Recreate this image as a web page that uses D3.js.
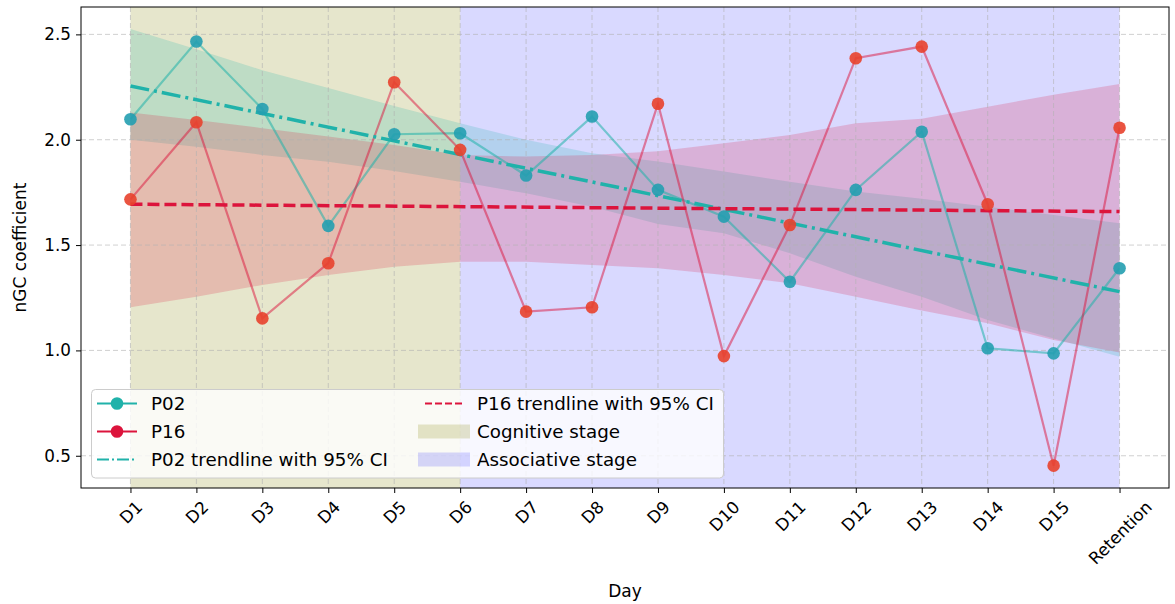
<!DOCTYPE html>
<html>
<head>
<meta charset="utf-8">
<script src="https://cdn.jsdelivr.net/npm/d3@7"></script>
<style>
  html, body { margin: 0; padding: 0; background: #fff; }
  svg { display: block; font-family: "DejaVu Sans", sans-serif; }
</style>
</head>
<body>
<svg id="chart" width="1175" height="604"></svg>
<script>
// ---------------- data ----------------
const days = ["D1","D2","D3","D4","D5","D6","D7","D8","D9","D10","D11","D12","D13","D14","D15","Retention"];
const p02 = [2.097, 2.466, 2.146, 1.591, 2.026, 2.031, 1.830, 2.110, 1.762, 1.635, 1.326, 1.762, 2.038, 1.010, 0.986, 1.390];
const p16 = [1.717, 2.083, 1.152, 1.414, 2.273, 1.952, 1.184, 1.205, 2.171, 0.973, 1.595, 2.387, 2.442, 1.694, 0.453, 2.057];
// trendline values at first and last day
const p02Trend = [2.255, 1.279];
const p16Trend = [1.694, 1.659];
// 95% CI band edges per day
const p02Upper = [2.525, 2.43, 2.33, 2.245, 2.16, 2.078, 2.0, 1.936, 1.897, 1.849, 1.80, 1.754, 1.72, 1.682, 1.643, 1.604];
const p02Lower = [2.0, 1.967, 1.928, 1.896, 1.852, 1.80, 1.746, 1.682, 1.60, 1.556, 1.461, 1.35, 1.255, 1.144, 1.057, 0.97];
const p16Upper = [2.129, 2.094, 2.055, 2.015, 1.975, 1.928, 1.92, 1.928, 1.945, 1.983, 2.023, 2.078, 2.10, 2.157, 2.213, 2.265];
const p16Lower = [1.205, 1.255, 1.311, 1.358, 1.397, 1.421, 1.421, 1.405, 1.39, 1.358, 1.319, 1.255, 1.19, 1.129, 1.05, 0.99];
const yTicks = [0.5, 1.0, 1.5, 2.0, 2.5];
const stages = [
  {name: "Cognitive stage", from: "D1", to: "D6"},
  {name: "Associative stage", from: "D6", to: "Retention"}
];

// ---------------- layout ----------------
const W = 1175, H = 604;
const L = 81, R = 1169, T = 7, B = 488;
const C_P02 = "#20b2aa", C_P16 = "#dc143c";
const C_P02_MK = "#239fb0", C_P16_MK = "#e8412c";
const C_COG = "#808000", C_ASSOC = "#0000ff";
const TICK_FS = 16.8, LABEL_FS = 17, LEG_FS = 18.3;

const svg = d3.select("#chart");
const idx = d3.range(days.length);
const x = d3.scaleLinear().domain([-0.75, days.length - 1 + 0.75]).range([L, R]);
const y = d3.scaleLinear().domain([0.347, 2.63]).range([B, T]);

svg.append("defs").append("clipPath").attr("id", "plotclip")
  .append("rect").attr("x", L).attr("y", T).attr("width", R - L).attr("height", B - T);
const plot = svg.append("g").attr("clip-path", "url(#plotclip)");

// stage spans
plot.selectAll("rect.stage").data(stages).enter().append("rect")
  .attr("class", "stage")
  .attr("x", d => x(days.indexOf(d.from)))
  .attr("width", d => x(days.indexOf(d.to)) - x(days.indexOf(d.from)))
  .attr("y", T).attr("height", B - T)
  .attr("fill", (d, i) => i === 0 ? C_COG : C_ASSOC)
  .attr("fill-opacity", (d, i) => i === 0 ? 0.2 : 0.15);

// CI bands
const area = (up, lo) => d3.area().x((d, i) => x(i)).y0((d, i) => y(lo[i])).y1((d, i) => y(up[i]));
plot.append("path").attr("d", area(p02Upper, p02Lower)(idx))
  .attr("fill", C_P02).attr("fill-opacity", 0.2);
plot.append("path").attr("d", area(p16Upper, p16Lower)(idx))
  .attr("fill", C_P16).attr("fill-opacity", 0.2);

// grid
const grid = plot.append("g");
grid.selectAll("line.vg").data(idx).enter().append("line")
  .attr("x1", d => x(d)).attr("x2", d => x(d)).attr("y1", T).attr("y2", B)
  .attr("stroke", "#b0b0b0").attr("stroke-opacity", 0.6).attr("stroke-width", 1)
  .attr("stroke-dasharray", "5,3");
grid.selectAll("line.hg").data(yTicks).enter().append("line")
  .attr("y1", d => y(d)).attr("y2", d => y(d)).attr("x1", L).attr("x2", R)
  .attr("stroke", "#b0b0b0").attr("stroke-opacity", 0.6).attr("stroke-width", 1)
  .attr("stroke-dasharray", "5,3");

// data lines
const line = vals => d3.line().x((d, i) => x(i)).y((d, i) => y(vals[i]))(idx);
plot.append("path").attr("d", line(p02)).attr("fill", "none")
  .attr("stroke", C_P02).attr("stroke-opacity", 0.55).attr("stroke-width", 2.2);
plot.append("path").attr("d", line(p16)).attr("fill", "none")
  .attr("stroke", C_P16).attr("stroke-opacity", 0.5).attr("stroke-width", 2.2);

// trend lines
const last = days.length - 1;
plot.append("line").attr("x1", x(0)).attr("x2", x(last))
  .attr("y1", y(p02Trend[0])).attr("y2", y(p02Trend[1]))
  .attr("stroke", C_P02).attr("stroke-width", 3.5).attr("stroke-dasharray", "19,5,3,5");
plot.append("line").attr("x1", x(0)).attr("x2", x(last))
  .attr("y1", y(p16Trend[0])).attr("y2", y(p16Trend[1]))
  .attr("stroke", C_P16).attr("stroke-width", 3.5).attr("stroke-dasharray", "12,5");

// markers
plot.selectAll("circle.p02").data(idx).enter().append("circle")
  .attr("cx", d => x(d)).attr("cy", d => y(p02[d])).attr("r", 6.3)
  .attr("fill", C_P02_MK).attr("fill-opacity", 0.9);
plot.selectAll("circle.p16").data(idx).enter().append("circle")
  .attr("cx", d => x(d)).attr("cy", d => y(p16[d])).attr("r", 6.3)
  .attr("fill", C_P16_MK).attr("fill-opacity", 0.9);

// axes
const yAxis = d3.axisLeft(y).tickValues(yTicks).tickFormat(d3.format(".1f")).tickSize(5).tickPadding(5);
const gy = svg.append("g").attr("transform", `translate(${L},0)`).call(yAxis);
gy.select(".domain").remove();
gy.selectAll("text").attr("font-size", TICK_FS).attr("fill", "#000").attr("font-family", "DejaVu Sans");
gy.selectAll("line").attr("stroke", "#000");

const xAxis = d3.axisBottom(x).tickValues(idx).tickFormat(i => days[i]).tickSize(5).tickPadding(5);
const gx = svg.append("g").attr("transform", `translate(0,${B})`).call(xAxis);
gx.select(".domain").remove();
gx.selectAll("line").attr("stroke", "#000");
gx.selectAll("text").each(function(i) {
  const t = d3.select(this);
  t.attr("font-size", TICK_FS).attr("font-family", "DejaVu Sans").attr("fill", "#000")
   .attr("y", 0).attr("dy", null).attr("text-anchor", "middle").attr("dominant-baseline", "central");
  const w = this.getComputedTextLength();
  const h = TICK_FS * 1.0;
  const bh = (w + h) / Math.SQRT2;
  const cy = 10 + bh / 2;
  t.attr("transform", `translate(0,${cy}) rotate(-45)`);
});

// frame
svg.append("rect").attr("x", L).attr("y", T).attr("width", R - L).attr("height", B - T)
  .attr("fill", "none").attr("stroke", "#000").attr("stroke-width", 1);

// axis labels
svg.append("text").attr("x", (L + R) / 2).attr("y", 597).attr("text-anchor", "middle")
  .attr("font-size", LABEL_FS).attr("fill", "#000").text("Day");
svg.append("text").attr("transform", `translate(26,${(T + B) / 2}) rotate(-90)`)
  .attr("text-anchor", "middle").attr("font-size", LABEL_FS).attr("fill", "#000").text("nGC coefficient");

// legend
const lg = svg.append("g");
lg.append("rect").attr("x", 91.5).attr("y", 389.5).attr("width", 632).attr("height", 88.5)
  .attr("rx", 4).attr("fill", "#fff").attr("fill-opacity", 0.8)
  .attr("stroke", "#cccccc").attr("stroke-width", 1);
const rows = [403.5, 431.5, 459.5];
function ltext(xp, yp, s) {
  lg.append("text").attr("x", xp).attr("y", yp).attr("dominant-baseline", "central")
    .attr("font-size", LEG_FS).attr("fill", "#000").text(s);
}
// P02
lg.append("line").attr("x1", 97).attr("x2", 137).attr("y1", rows[0]).attr("y2", rows[0])
  .attr("stroke", C_P02).attr("stroke-width", 2.2);
lg.append("circle").attr("cx", 117).attr("cy", rows[0]).attr("r", 6.3).attr("fill", C_P02);
ltext(151, rows[0], "P02");
// P16
lg.append("line").attr("x1", 97).attr("x2", 137).attr("y1", rows[1]).attr("y2", rows[1])
  .attr("stroke", C_P16).attr("stroke-width", 2.2);
lg.append("circle").attr("cx", 117).attr("cy", rows[1]).attr("r", 6.3).attr("fill", C_P16);
ltext(151, rows[1], "P16");
// P02 trend
lg.append("line").attr("x1", 97).attr("x2", 137).attr("y1", rows[2]).attr("y2", rows[2])
  .attr("stroke", C_P02).attr("stroke-width", 2).attr("stroke-dasharray", "12,3,2,3");
ltext(151, rows[2], "P02 trendline with 95% CI");
// P16 trend
lg.append("line").attr("x1", 425).attr("x2", 462).attr("y1", rows[0]).attr("y2", rows[0])
  .attr("stroke", C_P16).attr("stroke-width", 2).attr("stroke-dasharray", "7,3");
ltext(477, rows[0], "P16 trendline with 95% CI");
// stage patches
lg.append("rect").attr("x", 418).attr("y", rows[1] - 7).attr("width", 52).attr("height", 14)
  .attr("fill", C_COG).attr("fill-opacity", 0.2);
ltext(477, rows[1], stages[0].name);
lg.append("rect").attr("x", 418).attr("y", rows[2] - 7).attr("width", 52).attr("height", 14)
  .attr("fill", C_ASSOC).attr("fill-opacity", 0.15);
ltext(477, rows[2], stages[1].name);
</script>
</body>
</html>
